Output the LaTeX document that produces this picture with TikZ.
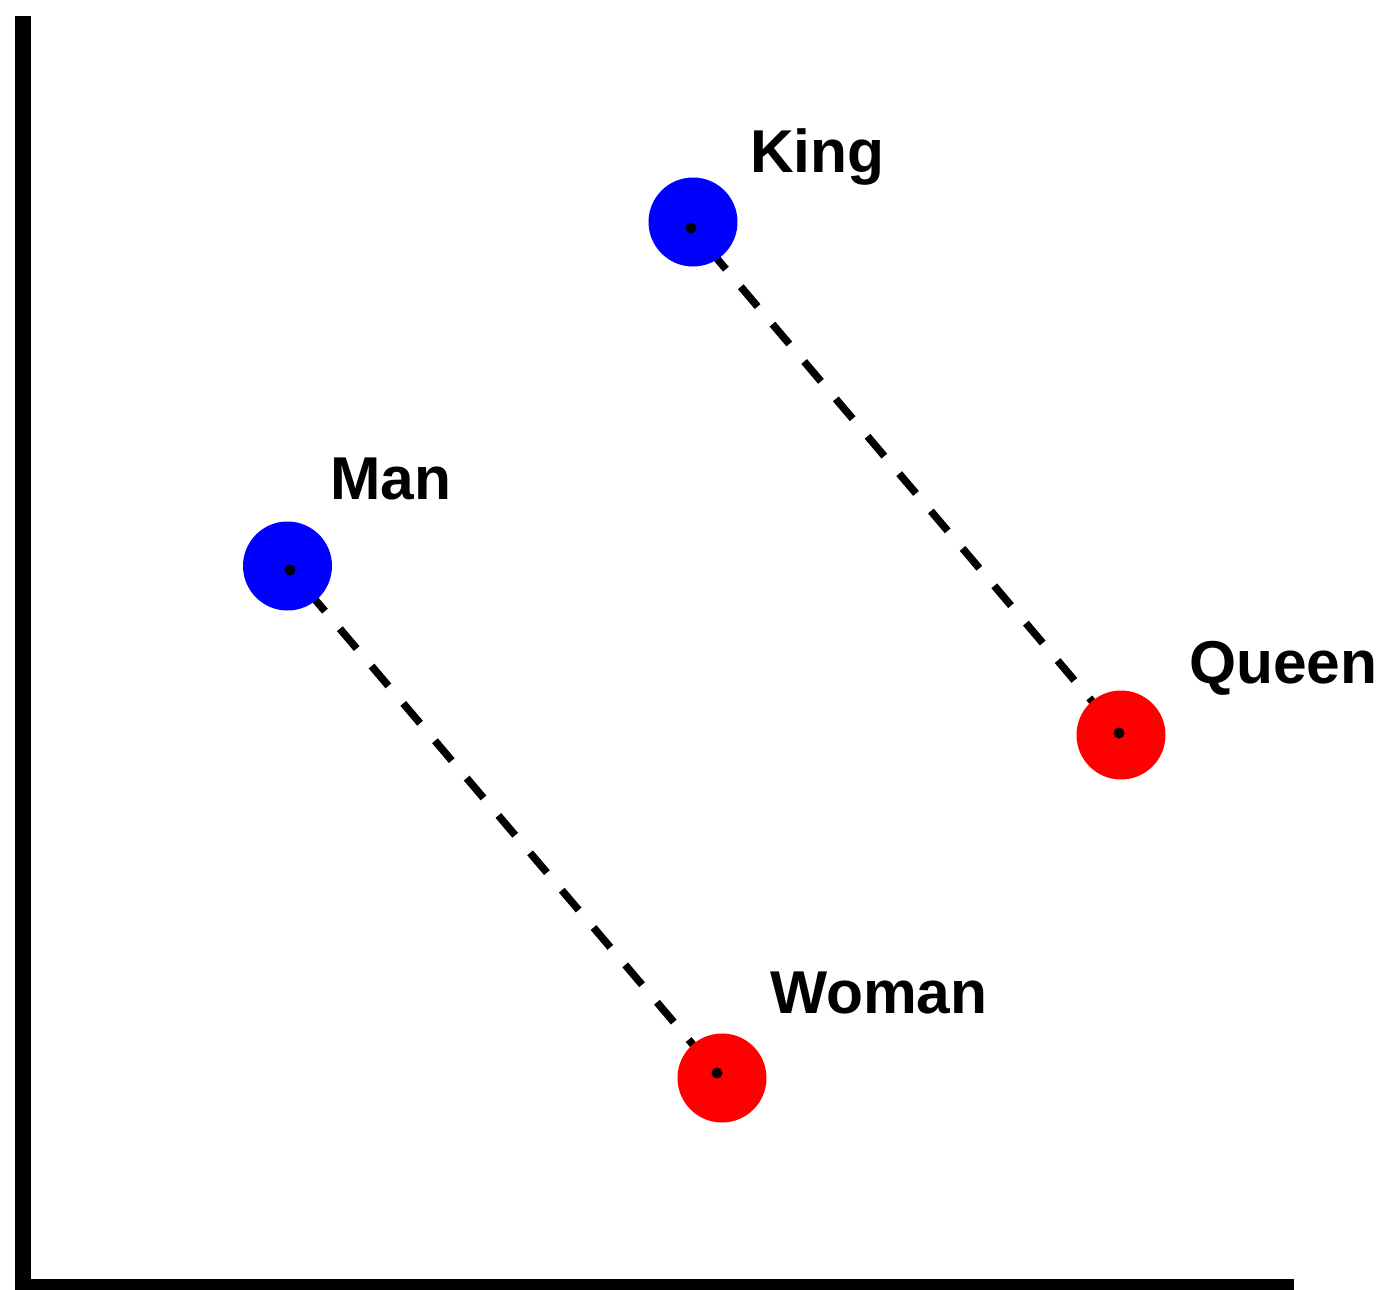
\documentclass[tikz,border=0pt]{standalone}
\usepackage{fontspec}
\setmainfont{Liberation Sans}
\begin{document}
\begin{tikzpicture}[x=1pt,y=-1pt,
  axis/.style={line width=16pt,line join=miter},
  link/.style={line width=7.5pt,dash pattern=on 26pt off 23pt,dash phase=21pt},
  bluept/.style={circle,fill=blue,inner sep=0pt,minimum size=89pt},
  redpt/.style={circle,fill=red,inner sep=0pt,minimum size=89pt},
  centerdot/.style={circle,fill=black,inner sep=0pt,minimum size=11pt},
  lbl/.style={anchor=base west,inner sep=0pt,font=\fontsize{60.5}{70}\selectfont\bfseries}]
\useasboundingbox (0,0) rectangle (1382,1290);
% axes
\coordinate (top) at (23,16);
\coordinate (corner) at (23,1287);
\coordinate (right) at (1294,1287);
\draw[axis] (top) -- (corner) -- (right);
% dot centres
\coordinate (kc) at (691,228);
\coordinate (qc) at (1119,733);
\coordinate (mc) at (290,570);
\coordinate (wc) at (717,1073);
% dashed links (behind circles)
\draw[link] (kc) -- (qc);
\draw[link] (mc) -- (wc);
% circles
\node[bluept] (king) at (693,222) {};
\node[redpt] (queen) at (1121,735) {};
\node[bluept] (man) at (287.5,566) {};
\node[redpt] (woman) at (722,1078) {};
% centre dots
\node[centerdot] (kd) at (kc) {};
\node[centerdot] (qd) at (qc) {};
\node[centerdot] (md) at (mc) {};
\node[centerdot] (wd) at (wc) {};
% labels
\node[lbl] (kingl) at (750,172) {King};
\node[lbl] (queenl) at (1189,683) {Queen};
\node[lbl] (manl) at (330,499) {Man};
\node[lbl] (womanl) at (770,1013) {Woman};
\end{tikzpicture}
\end{document}
